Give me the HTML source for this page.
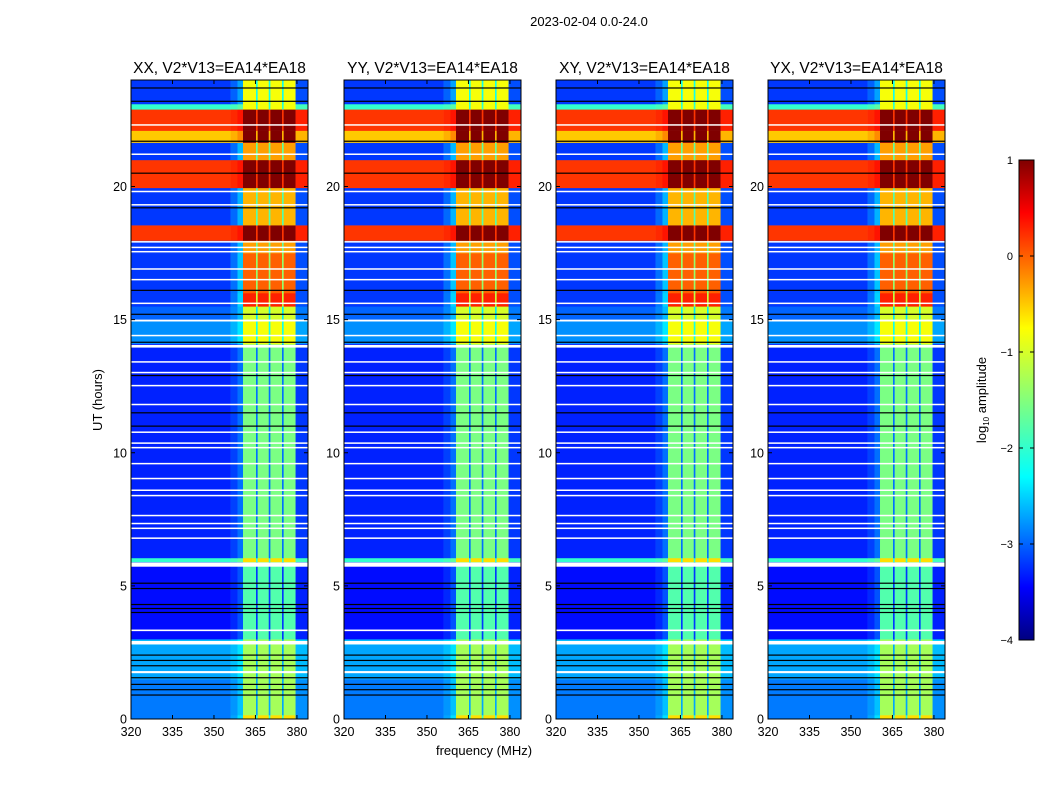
<!DOCTYPE html>
<html><head><meta charset="utf-8"><style>
body{margin:0;background:#fff;font-family:"Liberation Sans",sans-serif;}
svg text{font-family:"Liberation Sans",sans-serif;}
</style></head><body>
<svg id="fig" width="1050" height="800" xmlns="http://www.w3.org/2000/svg">
<rect width="1050" height="800" fill="#fff"/>
<text x="589" y="26" font-size="13" text-anchor="middle">2023-02-04 0.0-24.0</text>
<text x="484" y="755" font-size="13" text-anchor="middle">frequency (MHz)</text>
<text transform="translate(102,400) rotate(-90)" font-size="13" text-anchor="middle">UT (hours)</text>
<g id="panels"></g>
<defs><linearGradient id="jetg" x1="0" y1="1" x2="0" y2="0">
<stop offset="0" stop-color="#000080"/><stop offset="0.11" stop-color="#0000ff"/><stop offset="0.34" stop-color="#00ffff"/><stop offset="0.65" stop-color="#ffff00"/><stop offset="0.89" stop-color="#ff0000"/><stop offset="1" stop-color="#800000"/></linearGradient></defs>
<g>
<rect x="1019" y="160" width="15" height="480" fill="url(#jetg)" stroke="#000" stroke-width="1"/>
<g id="cbticks"></g>
<text transform="translate(986,400) rotate(-90)" font-size="13" text-anchor="middle">log<tspan font-size="8" dy="3">10</tspan><tspan dy="-3"> amplitude</tspan></text>
</g>
</svg>
<script>
// time bands: [startHour, endHour, outsideLevel, insideLevel]
const timeBands=[
[0,0.15,-2.9,-0.6],[0.15,1.5,-2.9,-1.3],[1.5,2.8,-2.7,-1.3],[2.8,3.0,-2.6,-1.3],[3.0,5.7,-3.4,-1.8],
[5.7,5.9,-3.4,-1.8],[5.9,6.05,-2.0,-0.6],[6.05,14.0,-3.3,-1.55],[14.0,14.1,-3.3,-1.3],[14.1,14.95,-2.8,-0.8],
[14.95,15.5,-3.0,-1.0],[15.5,16.0,-3.2,0.3],[16.0,17.5,-3.2,0.0],[17.5,17.97,-3.2,-0.3],[17.97,18.55,0.2,1.0],
[18.55,19.95,-3.2,-0.4],[19.95,21.0,0.2,1.0],[21.0,21.65,-3.2,-0.3],[21.65,22.1,-0.5,1.0],[22.1,22.9,0.2,1.0],
[22.9,23.1,-2.0,-0.8],[23.1,24,-3.2,-0.8]];
// flagged (white) rows: [start, end]
const whiteRows=[[2.8,2.93],[1.72,1.8],[5.72,5.88],[3.3,3.36],[11.8,11.84],[10.75,10.8],[10.34,10.39],[10.18,10.22],[9.58,9.62],[9.02,9.06],[8.58,8.62],[8.38,8.42],[7.63,7.67],[7.33,7.37],[7.15,7.19],[6.78,6.82],[12.5,12.55],[13.0,13.04],[13.4,13.44],[13.95,14.05],[14.93,15.0],[14.4,14.43],[15.6,15.64],[17.9,17.95],[17.7,17.74],[17.55,17.58],[16.9,16.93],[16.5,16.53],[19.3,19.34],[19.8,19.84],[21.2,21.24],[22.3,22.34]];
// dark rows: hour
const blackRows=[0.9,1.1,1.3,1.55,2.0,2.2,2.4,4.0,4.15,4.3,4.9,5.1,11.0,11.5,12.9,14.15,15.2,16.1,19.2,20.5,21.7,23.2,23.7];
// RFI sub-bands (MHz)
const rfiBands=[[360.5,365.2],[365.8,369.8],[370.4,374.6],[375.2,379.5]];
const panelTitles=["XX, V2*V13=EA14*EA18","YY, V2*V13=EA14*EA18","XY, V2*V13=EA14*EA18","YX, V2*V13=EA14*EA18"];
const xTicks=[320,335,350,365,380];
const yTicks=[0,5,10,15,20];
const cbTicks=[1,0,-1,-2,-3,-4];
const cbLabels=["1","0","\u22121","\u22122","\u22123","\u22124"];

const NS="http://www.w3.org/2000/svg";
const panelX=[131,344,556,768], PW=177, PT=80, PB=719;
const fmin=320,fmax=384,tmin=0,tmax=24;
function jet(v){let t=(v+4)/5;t=Math.max(0,Math.min(1,t));
const st=[[0,0,0,.5],[.11,0,0,1],[.34,0,1,1],[.65,1,1,0],[.89,1,0,0],[1,.5,0,0]];
for(let i=1;i<st.length;i++){if(t<=st[i][0]){const a=st[i-1],b=st[i],u=(t-a[0])/(b[0]-a[0]);
return `rgb(${[1,2,3].map(k=>Math.round(255*(a[k]+(b[k]-a[k])*u))).join(',')})`;}}return "#800000";}
function mk(tag,attrs,parent){const e=document.createElementNS(NS,tag);for(const k in attrs)e.setAttribute(k,attrs[k]);parent.appendChild(e);return e;}
const segs=[[320,356,'o'],[356,358.5,'t1'],[358.5,360.5,'t2']];
rfiBands.forEach((b,i)=>{segs.push([b[0],b[1],'i']);if(i<rfiBands.length-1)segs.push([b[1],rfiBands[i+1][0],'g']);});
segs.push([379.5,384,'e']);
function val(kind,o,n){if(kind==='o')return o;if(kind==='t1')return o+(n-o)*0.08;if(kind==='t2')return o+(n-o)*0.2;
if(kind==='i')return n;if(kind==='g')return Math.max(o,n-1.4);return o+0.1;}
const root=document.getElementById('panels');
panelX.forEach((x0,p)=>{
 const xs=f=>x0+(f-fmin)/(fmax-fmin)*PW, ys=t=>PB-(t-tmin)/(tmax-tmin)*(PB-PT);
 const g=mk('g',{},root);
 
 
 const hm=mk('g',{},g);
 
 
 timeBands.forEach(b=>{segs.forEach(s=>{
  const r=mk('rect',{x:xs(s[0]),y:ys(b[1]),width:xs(s[1])-xs(s[0])+0.3,height:ys(b[0])-ys(b[1])+0.3,fill:jet(val(s[2],b[2],b[3]))},hm);
  
  
 });});
 blackRows.forEach(t=>{const r=mk('rect',{x:x0,y:ys(t)-0.6,width:PW,height:1.2,fill:'#000'},hm);
  
  });
 whiteRows.forEach(w=>{const r=mk('rect',{x:x0,y:ys(w[1]),width:PW,height:Math.max(1.5,ys(w[0])-ys(w[1])),fill:'#fff'},hm);
  
  });
 const fr=mk('rect',{x:x0,y:PT,width:PW,height:PB-PT,fill:'none',stroke:'#000','stroke-width':1},g);
 
 
 const tt=mk('text',{x:x0+PW/2,y:PT-7,'font-size':15.5,'text-anchor':'middle'},g);tt.textContent=panelTitles[p];
 
 
 xTicks.forEach(v=>{const x=xs(v);
  mk('line',{x1:x,x2:x,y1:PB,y2:PB-4,stroke:'#000'},g);mk('line',{x1:x,x2:x,y1:PT,y2:PT+4,stroke:'#000'},g);
  const t=mk('text',{x:x,y:PB+17,'font-size':12.5,'text-anchor':'middle'},g);t.textContent=v;
  
  });
 yTicks.forEach(v=>{const y=ys(v);
  mk('line',{x1:x0,x2:x0+4,y1:y,y2:y,stroke:'#000'},g);mk('line',{x1:x0+PW,x2:x0+PW-4,y1:y,y2:y,stroke:'#000'},g);
  const t=mk('text',{x:x0-4,y:y+4.5,'font-size':12.5,'text-anchor':'end'},g);t.textContent=v;
  
  });
});
const cb=document.getElementById('cbticks');
cbTicks.forEach((v,i)=>{const y=160+(1-v)/5*480;
 mk('line',{x1:1019,x2:1023,y1:y,y2:y,stroke:'#000'},cb);mk('line',{x1:1034,x2:1030,y1:y,y2:y,stroke:'#000'},cb);
 const t=mk('text',{x:1013,y:y+4,'font-size':11,'text-anchor':'end'},cb);t.textContent=cbLabels[i];
 
 });
</script>
</body></html>
